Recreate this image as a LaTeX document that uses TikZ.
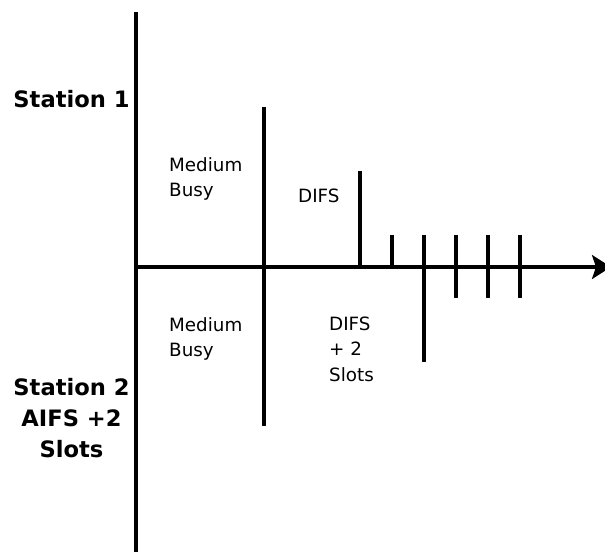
\documentclass[tikz,border=0pt]{standalone}
\usepackage{fontspec}
\setmainfont{DejaVu Sans}
\usetikzlibrary{arrows.meta}
\begin{document}
\begin{tikzpicture}[x=1pt,y=-1pt,
  line/.style={line width=3.2pt},
  label/.style={inner sep=0pt,anchor=base west,align=left,
    font=\fontsize{18.3}{25.5}\selectfont},
  station/.style={inner sep=0pt,anchor=base,align=center,
    font=\bfseries\fontsize{22.6}{31}\selectfont}]
\useasboundingbox (0,0) rectangle (605,552);
% time axes
\draw[line] (136,12) -- (136,552);
\coordinate (tip) at (611,267);
\draw[line,-{Stealth[length=19pt,width=24pt,inset=4pt]}] (136,267) -- (tip);
% medium busy boundary
\draw[line] (264,107) -- (264,426);
% DIFS end for station 1
\draw[line] (360,171) -- (360,267);
% backoff slots above the axis
\draw[line] (392,235) -- (392,267);
% DIFS + 2 slots end for station 2
\draw[line] (424,235) -- (424,362);
% slots crossing the axis
\foreach \sx in {456,488,520}
  \draw[line] (\sx,235) -- (\sx,298);
% labels (base anchor sits on the last line)
\node[station] (s1) at (71.5,107) {Station 1};
\node[station] (s2) at (71.5,457) {Station 2\\AIFS +2\\Slots};
\node[label] (mb1) at (169,196.7) {Medium\\Busy};
\node[label] (difs1) at (298,202) {DIFS};
\node[label] (mb2) at (169,356.7) {Medium\\Busy};
\node[label] (difs2) at (329,381) {DIFS\\+ 2\\Slots};
\end{tikzpicture}
\end{document}
